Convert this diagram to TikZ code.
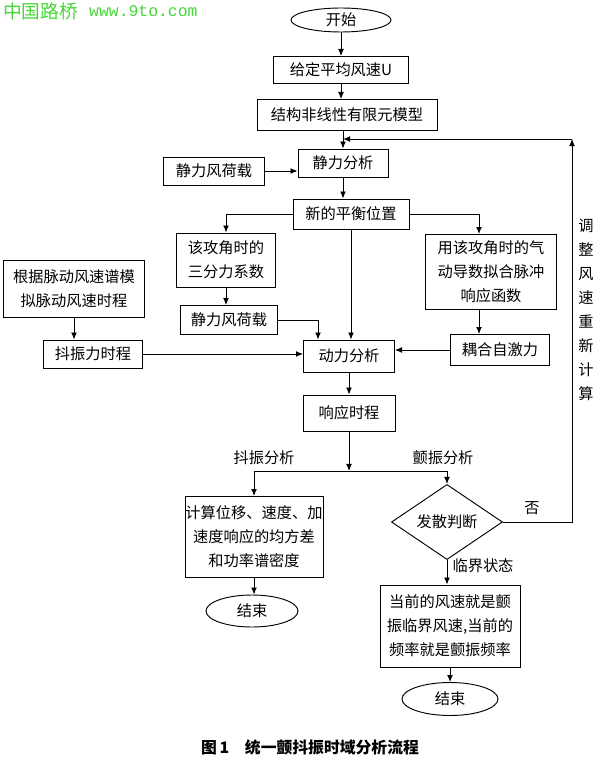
\documentclass[tikz,border=0pt]{standalone}
\usepackage{fontspec}
\setmainfont{Noto Sans CJK SC}
\newfontfamily\wmfont{Liberation Mono}
\usetikzlibrary{shapes.geometric,arrows.meta}
\definecolor{wmgreen}{RGB}{70,215,55}
\newcommand{\flowfont}{\fontsize{13}{20.5}\selectfont}
\tikzset{
  >={Latex[length=6pt,width=5pt]},
  box/.style={draw,line width=0.8pt,align=center,inner sep=0pt,font=\flowfont},
  term/.style={draw,ellipse,line width=0.8pt,inner sep=0pt,font=\flowfont},
  decide/.style={draw,diamond,line width=0.8pt,inner sep=0pt,font=\flowfont},
  lbl/.style={font=\flowfont},
  link/.style={line width=0.8pt}
}
\begin{document}
\begin{tikzpicture}[x=0.03cm,y=-0.03cm]
        \useasboundingbox (0,0) rectangle (600,764);
        %% Watermark
        \node[anchor=west,text=wmgreen,inner sep=0pt,font=\fontsize{16}{18}\selectfont] (mark) at (3,11) {中国路桥};
        \node[anchor=west,text=wmgreen,inner sep=0pt,font=\wmfont\fontsize{14}{16}\selectfont] (site) at (89,11) {www.9to.com};
        %% Main column
        \node[term,minimum width=3cm,minimum height=0.72cm] (start) at (341,20) {开始};
        \node[box,minimum width=4.05cm,minimum height=0.81cm] (given) at (341,70) {给定平均风速U};
        \node[box,minimum width=5.4cm,minimum height=0.93cm] (fem) at (347,115) {结构非线性有限元模型};
        \node[box,minimum width=2.7cm,minimum height=0.84cm] (static) at (343,163) {静力分析};
        \node[box,minimum width=3.03cm,minimum height=0.84cm] (load1) at (214,171) {静力风荷载};
        \node[box,minimum width=3.48cm,minimum height=0.9cm] (newpos) at (351,214) {新的平衡位置};
        %% Side branches
        \node[box,minimum width=2.97cm,minimum height=1.62cm] (coef) at (226,260) {该攻角时的\\三分力系数};
        \node[box,minimum width=3.93cm,minimum height=2.25cm] (deriv) at (491,272) {用该攻角时的气\\动导数拟合脉冲\\响应函数};
        \node[box,minimum width=4.23cm,minimum height=1.71cm] (spectrum) at (74,289) {根据脉动风速谱模\\拟脉动风速时程};
        \node[box,minimum width=2.91cm,minimum height=0.87cm] (load2) at (229,320) {静力风荷载};
        \node[box,minimum width=2.97cm,minimum height=0.84cm] (buffet) at (93,354) {抖振力时程};
        \node[box,minimum width=2.73cm,minimum height=0.96cm] (dyn) at (349,356) {动力分析};
        \node[box,minimum width=2.97cm,minimum height=0.93cm] (selfexc) at (500,350) {耦合自激力};
        \node[box,minimum width=2.76cm,minimum height=1.08cm] (resp) at (349,413) {响应时程};
        %% Outputs
        \node[box,minimum width=4.14cm,minimum height=2.43cm] (calc) at (254,537) {计算位移、速度、加\\速度响应的均方差\\和功率谱密度};
        \node[decide,minimum width=3.33cm,minimum height=1.59cm] (judge) at (447,522) {发散判断};
        \node[box,minimum width=4.2cm,minimum height=2.46cm] (crit) at (450,626) {当前的风速就是颤\\振临界风速,当前的\\频率就是颤振频率};
        \node[term,minimum width=2.76cm,minimum height=0.96cm] (end1) at (252,611) {结束};
        \node[term,minimum width=2.88cm,minimum height=0.99cm] (end2) at (450,699) {结束};
        %% Helper points
        \coordinate (turn) at (572,139);
        \coordinate (split) at (349,471);
        \coordinate (dcol) at (479,0);
        \coordinate (lcol) at (318,0);
        %% Connectors
        \draw[link,->] (start) -- (given);
        \draw[link,->] (given.south) -- (given.south |- fem.north);
        \draw[link,->] (static.north |- fem.south) -- (static.north);
        \draw[link,->] (load1.east) -- (load1.east -| static.west);
        \draw[link,->] (static.south) -- (static.south |- newpos.north);
        \draw[link,->] (newpos.west) -| (coef.north);
        \draw[link,->] (newpos.east) -| (dcol |- deriv.north);
        \draw[link,->] (coef.south) -- (coef.south |- load2.north);
        \draw[link,->] (dcol |- deriv.south) -- (dcol |- selfexc.north);
        \draw[link,->] (spectrum.south) -- (spectrum.south |- buffet.north);
        \draw[link,->] (load2.east) -| (lcol |- dyn.north);
        \draw[link,->] (newpos.south) -- (newpos.south |- dyn.north);
        \draw[link,->] (buffet.east) -- (buffet.east -| dyn.west);
        \draw[link,->] (selfexc.west) -- (selfexc.west -| dyn.east);
        \draw[link,->] (dyn) -- (resp);
        \draw[link,->] (resp) -- (split);
        \draw[link] (calc.north |- split) -- (judge.north |- split);
        \draw[link,->] (calc.north |- split) -- (calc.north);
        \draw[link,->] (judge.north |- split) -- (judge.north);
        \draw[link,->] (calc.south) -- (calc.south |- end1.north);
        \draw[link,->] (judge.south) -- (judge.south |- crit.north);
        \draw[link,->] (crit.south) -- (crit.south |- end2.north);
        %% Feedback loop
        \draw[link,->] (judge.east) -| (turn);
        \draw[link,->] (turn) -- (turn -| static.north);
        %% Labels
        \node[lbl] (lbuf) at (264,458) {抖振分析};
        \node[lbl] (lflut) at (443,458) {颤振分析};
        \node[lbl] (lno) at (532,508) {否};
        \node[lbl] (lcrit) at (483,566) {临界状态};
        \node[lbl,align=center] (lnote) at (586,310) {调\\整\\风\\速\\重\\新\\计\\算};
        %% Caption
        \node[font=\bfseries\fontsize{13.5}{16}\selectfont] (cap) at (310,747) {图\,1\quad 统一颤抖振时域分析流程};
    \end{tikzpicture}
\end{document}
